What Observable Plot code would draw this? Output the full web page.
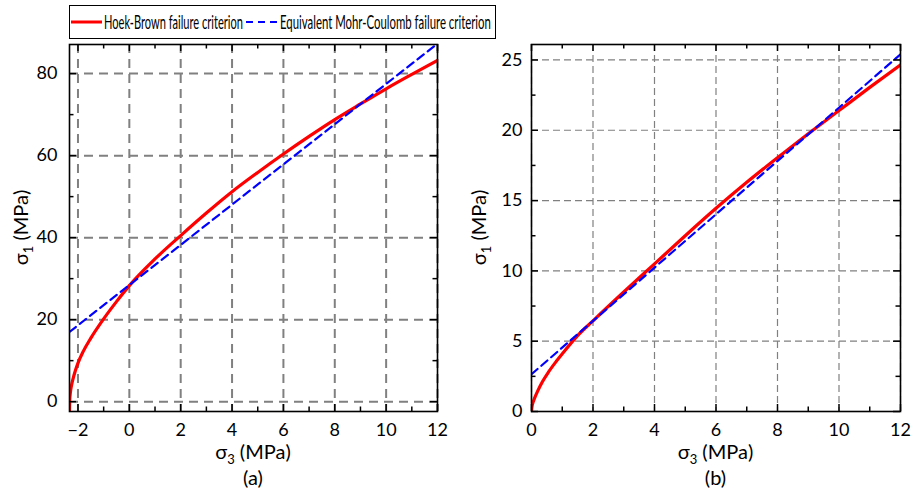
<!DOCTYPE html>
<html><head><meta charset="utf-8">
<script src="https://cdn.jsdelivr.net/npm/d3@7"></script>
<script src="https://cdn.jsdelivr.net/npm/@observablehq/plot@0.6"></script>
<style>
body{margin:0;background:#fff;}
#wrap{position:relative;width:912px;height:495px;overflow:hidden;background:#fff;}
#wrap svg{position:absolute;top:0;}
</style></head><body><div id="wrap"></div>
<script>
const FONT = "Lato,'Open Sans',sans-serif";

// ---- data ----
// panel (a)
const hbA_s3 = [-2.33, -2.32, -2.3, -2.25, -2.2, -2.1, -2.0, -1.8, -1.5, -1.0, -0.5, 0, 1, 2, 3, 4, 5, 6, 7, 8, 9, 10, 11, 12];
const hbA_s1 = [-2.4, 0.5, 2.0, 4.0, 5.4, 7.6, 9.4, 12.2, 15.5, 20.2, 24.4, 28.3, 34.8, 40.5, 46.0, 51.2, 55.9, 60.4, 64.7, 68.8, 72.6, 76.3, 79.8, 83.2];
const mcA_s3 = [-2.33, 12];
const mcA_s1 = [17.0, 87.3];
// panel (b)
const hbB_s3 = [0, 0.02, 0.05, 0.1, 0.2, 0.35, 0.55, 0.8, 1, 1.5, 2, 3, 4, 5, 6, 7, 8, 9, 10, 11, 12];
const hbB_s1 = [0, 0.4, 0.65, 0.95, 1.45, 2.1, 2.8, 3.55, 4.1, 5.4, 6.45, 8.5, 10.5, 12.5, 14.45, 16.3, 18.05, 19.75, 21.4, 23.05, 24.65];
const mcB_s3 = [0, 12];
const mcB_s1 = [2.65, 25.4];

// ticks
const xTicksA = [-2, 0, 2, 4, 6, 8, 10, 12];
const xMinorA = [-1, 1, 3, 5, 7, 9, 11];
const yTicksA = [0, 20, 40, 60, 80];
const yMinorA = [10, 30, 50, 70];
const xTicksB = [0, 2, 4, 6, 8, 10, 12];
const xMinorB = [1, 3, 5, 7, 9, 11];
const yTicksB = [0, 5, 10, 15, 20, 25];
const yMinorB = [2.5, 7.5, 12.5, 17.5, 22.5];
const xDomA = [-2.33, 12], yDomA = [-2.4, 87.1];
const xDomB = [0, 12], yDomB = [0, 26.1];

const legendLabels = ["Hoek-Brown failure criterion", "Equivalent Mohr-Coulomb failure criterion"];
const panelTags = ["(a)", "(b)"];
const xLabel = ["σ", "3", " (MPa)"];
const yLabel = ["σ", "1", " (MPa)"];

const wrap = document.getElementById("wrap");

function panel(o) {
  const W = 456, H = 495, mt = 44, mb = 84;
  const hb = o.hbX.map((x, i) => ({x, y: o.hbY[i]}));
  const mc = o.mcX.map((x, i) => ({x, y: o.mcY[i]}));
  const grid = {stroke: "#808080", strokeWidth: o.gridW, strokeDasharray: o.gridDash};
  const tk = {stroke: "#000", strokeWidth: 1.5};
  const [x0, x1] = o.xDom, [y0, y1] = o.yDom;
  const svg = Plot.plot({
    width: W, height: H, marginLeft: o.ml, marginRight: o.mr, marginTop: mt, marginBottom: mb,
    style: {fontFamily: FONT, fontSize: "18px", color: "#000", background: "transparent"},
    x: {domain: o.xDom, label: null},
    y: {domain: o.yDom, label: null},
    marks: [
      Plot.ruleX(o.xT, grid),
      Plot.ruleY(o.yT, grid),
      Plot.line(hb, {x: "x", y: "y", stroke: "#ff0000", strokeWidth: o.redW, curve: "monotone-x", clip: true}),
      Plot.line(mc, {x: "x", y: "y", stroke: "#0000ff", strokeWidth: o.blueW, strokeDasharray: o.blueDash, clip: true}),
      // inward ticks, all four sides
      Plot.ruleX(o.xT, {y1: y0, y2: y0, insetBottom: 7, ...tk}),
      Plot.ruleX(o.xM, {y1: y0, y2: y0, insetBottom: 4.5, ...tk}),
      Plot.ruleX(o.xT, {y1: y1, y2: y1, insetTop: 7, ...tk}),
      Plot.ruleX(o.xM, {y1: y1, y2: y1, insetTop: 4.5, ...tk}),
      Plot.ruleY(o.yT, {x1: x0, x2: x0, insetLeft: 7, ...tk}),
      Plot.ruleY(o.yM, {x1: x0, x2: x0, insetLeft: 4.5, ...tk}),
      Plot.ruleY(o.yT, {x1: x1, x2: x1, insetRight: 7, ...tk}),
      Plot.ruleY(o.yM, {x1: x1, x2: x1, insetRight: 4.5, ...tk}),
      Plot.frame({stroke: "#000", strokeWidth: 1.6}),
      Plot.axisX(o.xT, {tickSize: 0, tickPadding: 12, fontSize: 18, label: null}),
      Plot.axisY(o.yT, {tickSize: 0, tickPadding: o.ytickPad, fontSize: 18, label: null})
    ]
  });
  svg.style.left = o.left + "px";
  const s = d3.select(svg);
  const cx = (o.ml + W - o.mr) / 2;
  const cy = (mt + H - mb) / 2;
  const tx = s.append("text").attr("x", cx).attr("y", 459).attr("text-anchor", "middle")
    .attr("font-family", FONT).attr("font-size", 20).attr("fill", "#000");
  tx.append("tspan").text(xLabel[0]);
  tx.append("tspan").attr("font-size", 13).attr("dy", 5).text(xLabel[1]);
  tx.append("tspan").attr("dy", -5).text(xLabel[2]);
  const ty = s.append("text").attr("transform", `translate(${o.ylabX},${cy}) rotate(-90)`)
    .attr("text-anchor", "middle").attr("font-family", FONT).attr("font-size", 20).attr("fill", "#000");
  ty.append("tspan").text(yLabel[0]);
  ty.append("tspan").attr("font-size", 13).attr("dy", 5).text(yLabel[1]);
  ty.append("tspan").attr("dy", -5).text(yLabel[2]);
  s.append("text").attr("x", cx).attr("y", 485).attr("text-anchor", "middle")
    .attr("font-family", FONT).attr("font-size", 20).attr("fill", "#000").text(o.tag);
  wrap.appendChild(svg);
}

panel({hbX: hbA_s3, hbY: hbA_s1, mcX: mcA_s3, mcY: mcA_s1, xDom: xDomA, yDom: yDomA,
  xT: xTicksA, xM: xMinorA, yT: yTicksA, yM: yMinorA, ml: 69, mr: 19, left: 0,
  gridW: 2, gridDash: "9,6", redW: 3.2, blueW: 2.2, blueDash: "8,5", tag: panelTags[0], ylabX: 28, ytickPad: 12});
panel({hbX: hbB_s3, hbY: hbB_s1, mcX: mcB_s3, mcY: mcB_s1, xDom: xDomB, yDom: yDomB,
  xT: xTicksB, xM: xMinorB, yT: yTicksB, yM: yMinorB, ml: 75, mr: 12, left: 456,
  gridW: 1.2, gridDash: "7,4", redW: 3.2, blueW: 2.2, blueDash: "8,5", tag: panelTags[1], ylabX: 30, ytickPad: 9});

// legend
const leg = d3.create("svg").attr("width", 912).attr("height", 42).style("left", "0px");
wrap.appendChild(leg.node());
leg.append("rect").attr("x", 69.5).attr("y", 5.5).attr("width", 426).attr("height", 33)
  .attr("fill", "#fff").attr("stroke", "#000").attr("stroke-width", 1);
leg.append("line").attr("x1", 71).attr("x2", 102).attr("y1", 22).attr("y2", 22)
  .attr("stroke", "#ff0000").attr("stroke-width", 3);
leg.append("line").attr("x1", 246).attr("x2", 278).attr("y1", 22).attr("y2", 22)
  .attr("stroke", "#0000ff").attr("stroke-width", 2.2).attr("stroke-dasharray", "7,5");
function legText(label, x, w) {
  const g = leg.append("g");
  const t = g.append("text").attr("x", 0).attr("y", 0).attr("font-family", FONT)
    .attr("font-size", 19).attr("fill", "#000").text(label);
  const nat = t.node().getComputedTextLength();
  g.attr("transform", `translate(${x},29) scale(${w / nat},1)`);
}
legText(legendLabels[0], 104, 139);
legText(legendLabels[1], 280, 211);
</script></body></html>
